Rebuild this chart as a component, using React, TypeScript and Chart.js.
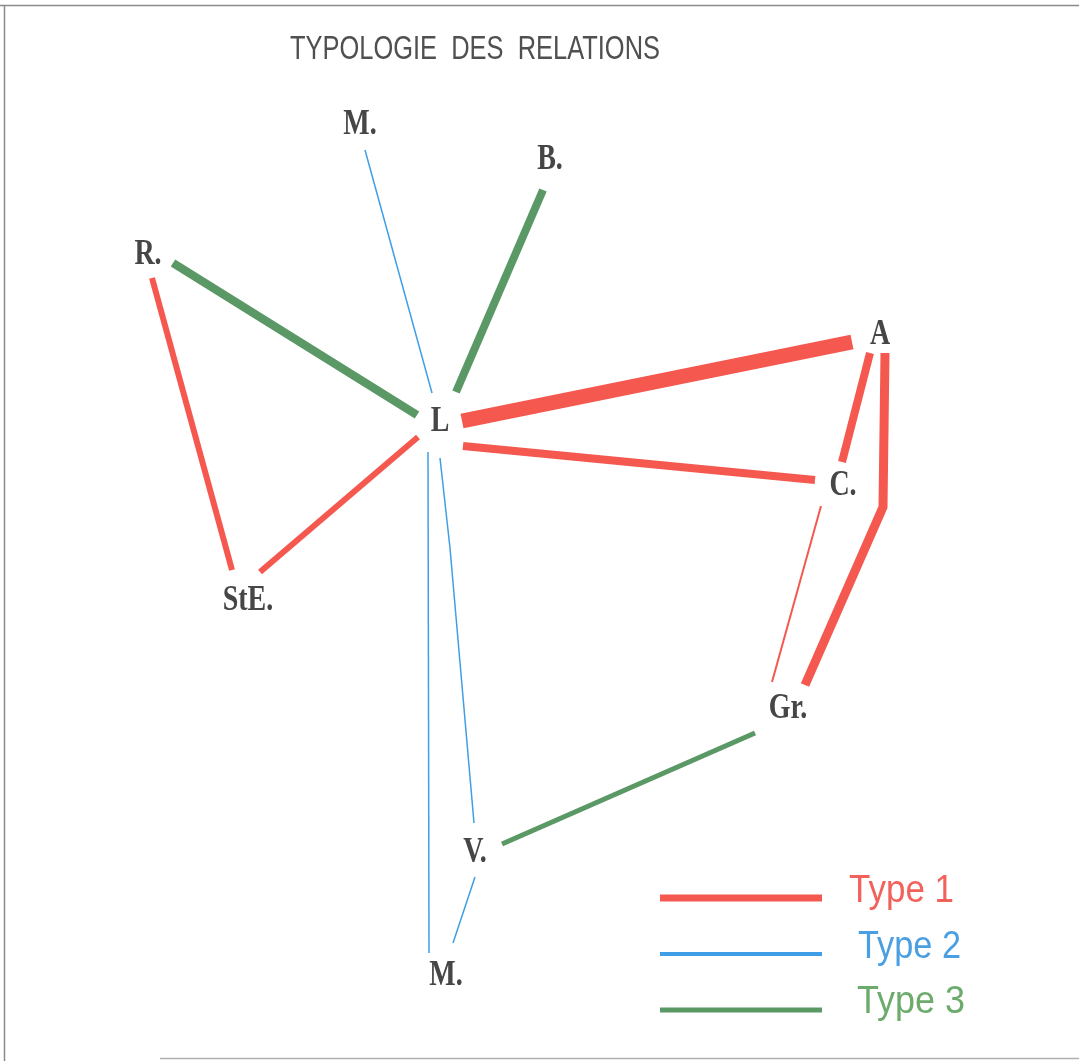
import React, { useEffect, useRef } from "react";
import { Chart, registerables } from "chart.js";

Chart.register(...registerables);

// Node labels and their positions (layout coordinates)
const nodeLabels = ["M.", "B.", "R.", "L", "A", "C.", "StE.", "Gr.", "V.", "M."];
const nodeX = [360, 550, 148, 440, 880, 843, 248, 788, 475, 446];
const nodeY = [123, 158, 253, 420, 333, 484, 599, 707, 851, 974];

// Relations: type (1, 2, 3), stroke weight, and path points
const edgeNames = ["M-L", "B-L", "R-L", "R-StE", "StE-L", "L-A", "L-C", "A-C", "A-Gr", "C-Gr", "Gr-V", "L-V", "L-M", "V-M"];
const edgeTypes = [2, 3, 3, 1, 1, 1, 1, 1, 1, 1, 3, 2, 2, 2];
const edgeWeights = [1.5, 8, 8.5, 6, 6, 15, 8, 8, 9, 2, 5, 1.5, 1.5, 1.5];
const edgePathX = [
  [365, 432],
  [543, 456],
  [173, 417],
  [152, 232],
  [260, 418],
  [462, 852],
  [463, 815],
  [870, 842],
  [885, 883, 805],
  [821, 772],
  [755, 502],
  [440, 450, 474],
  [428, 429],
  [475, 453],
];
const edgePathY = [
  [150, 393],
  [190, 392],
  [263, 415],
  [278, 570],
  [572, 437],
  [421, 342],
  [446, 480],
  [353, 462],
  [353, 507, 685],
  [506, 682],
  [733, 844],
  [458, 548, 823],
  [452, 953],
  [877, 943],
];

// Legend
const typeNames = ["Type 1", "Type 2", "Type 3"];
const typeLineColors = ["#f4584f", "#3f9fe6", "#5a9865"];
const typeTextColors = ["#f2625a", "#4a9fe2", "#6cab6c"];

const titleText = "TYPOLOGIE  DES  RELATIONS";

export default function App() {
  const ref = useRef<HTMLCanvasElement | null>(null);

  useEffect(() => {
    const canvas = ref.current;
    if (!canvas) return;

    const datasets = edgeNames.map((name, i) => ({
      label: name,
      data: edgePathX[i].map((x, k) => ({ x, y: edgePathY[i][k] })),
      showLine: true,
      borderColor: typeLineColors[edgeTypes[i] - 1],
      backgroundColor: typeLineColors[edgeTypes[i] - 1],
      borderWidth: edgeWeights[i],
      pointRadius: 0,
      tension: 0,
      borderCapStyle: "butt" as const,
      borderJoinStyle: "miter" as const,
    }));

    const drawPlugin = {
      id: "network-text",
      beforeDraw(chart: any) {
        const ctx = chart.ctx;
        ctx.save();
        ctx.fillStyle = "#ffffff";
        ctx.fillRect(0, 0, chart.width, chart.height);
        // frame
        ctx.strokeStyle = "#8a8a8a";
        ctx.lineWidth = 1.5;
        ctx.beginPath();
        ctx.moveTo(0, 5.5);
        ctx.lineTo(chart.width, 5.5);
        ctx.moveTo(4.5, 5);
        ctx.lineTo(4.5, chart.height);
        ctx.stroke();
        ctx.strokeStyle = "#b0b0b0";
        ctx.beginPath();
        ctx.moveTo(160, 1058.5);
        ctx.lineTo(chart.width, 1058.5);
        ctx.stroke();
        ctx.restore();
      },
      afterDatasetsDraw(chart: any) {
        const ctx = chart.ctx;
        const xs = chart.scales.x;
        const ys = chart.scales.y;

        const fitText = (text: string, font: string, color: string, left: number, baseline: number, width: number) => {
          ctx.save();
          ctx.font = font;
          ctx.fillStyle = color;
          ctx.textAlign = "left";
          ctx.textBaseline = "alphabetic";
          const w = ctx.measureText(text).width;
          ctx.translate(xs.getPixelForValue(left), ys.getPixelForValue(baseline));
          ctx.scale(width / w, 1);
          ctx.fillText(text, 0, 0);
          ctx.restore();
        };

        // title
        fitText(titleText, "34px 'Liberation Sans'", "#505050", 290, 59, 370);

        // node labels
        nodeLabels.forEach((lab, i) => {
          ctx.save();
          ctx.font = "bold 35px 'Liberation Serif'";
          ctx.fillStyle = "#464646";
          ctx.textAlign = "center";
          ctx.textBaseline = "middle";
          ctx.translate(xs.getPixelForValue(nodeX[i]), ys.getPixelForValue(nodeY[i]));
          ctx.scale(0.8, 1);
          ctx.fillText(lab, 0, 2);
          ctx.restore();
        });

        // legend
        const legY = [898, 954, 1010];
        const legW = [7, 4, 5];
        const legTextBase = [902, 958, 1013];
        const legTextLeft = [849, 858, 857];
        const legTextWidth = [105, 103, 108];
        typeNames.forEach((t, i) => {
          ctx.save();
          ctx.strokeStyle = typeLineColors[i];
          ctx.lineWidth = legW[i];
          ctx.beginPath();
          ctx.moveTo(xs.getPixelForValue(660), ys.getPixelForValue(legY[i]));
          ctx.lineTo(xs.getPixelForValue(822), ys.getPixelForValue(legY[i]));
          ctx.stroke();
          ctx.restore();
          fitText(t, "39px 'Liberation Sans'", typeTextColors[i], legTextLeft[i], legTextBase[i], legTextWidth[i]);
        });
      },
    };

    const chart = new Chart(canvas, {
      type: "scatter",
      data: { datasets },
      options: {
        responsive: false,
        animation: false,
        layout: { padding: 0 },
        scales: {
          x: { type: "linear", min: 0, max: 1079, display: false },
          y: { type: "linear", min: 0, max: 1061, reverse: true, display: false },
        },
        plugins: {
          legend: { display: false },
          tooltip: { enabled: false },
          title: { display: false },
        },
      },
      plugins: [drawPlugin],
    });

    return () => chart.destroy();
  }, []);

  return (
    <div style={{ position: "fixed", left: 0, top: 0, width: 1079, height: 1061, background: "#fff" }}>
      <canvas ref={ref} width={1079} height={1061} style={{ display: "block" }} />
    </div>
  );
}
